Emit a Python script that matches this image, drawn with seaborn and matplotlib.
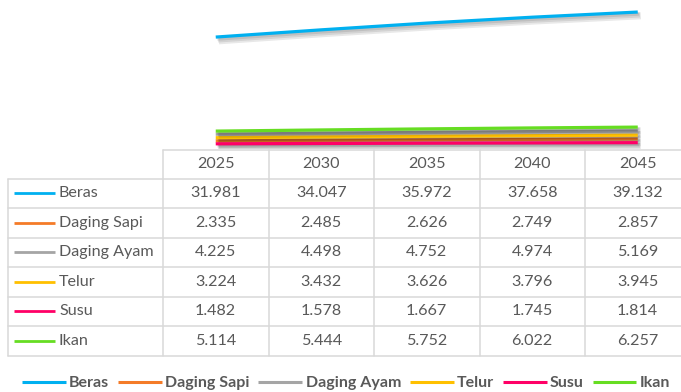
import matplotlib
matplotlib.use("Agg")
import matplotlib.pyplot as plt
import matplotlib.patheffects as pe
from matplotlib.lines import Line2D
import seaborn as sns
import pandas as pd

# Data (projected consumption per commodity)
years = [2025, 2030, 2035, 2040, 2045]
beras = [31.981, 34.047, 35.972, 37.658, 39.132]
daging_sapi = [2.335, 2.485, 2.626, 2.749, 2.857]
daging_ayam = [4.225, 4.498, 4.752, 4.974, 5.169]
telur = [3.224, 3.432, 3.626, 3.796, 3.945]
susu = [1.482, 1.578, 1.667, 1.745, 1.814]
ikan = [5.114, 5.444, 5.752, 6.022, 6.257]

series_names = ["Beras", "Daging Sapi", "Daging Ayam", "Telur", "Susu", "Ikan"]
series_values = [beras, daging_sapi, daging_ayam, telur, susu, ikan]
colors = ["#00B0F0", "#F47B28", "#A5A5A5", "#FFC000", "#FF0066", "#66DD22"]

sns.set_theme(style="white")
plt.rcParams["font.family"] = ["Lato", "DejaVu Sans"]

df = pd.DataFrame(
    [(name, y, v) for name, vals in zip(series_names, series_values) for y, v in zip(years, vals)],
    columns=["Komoditas", "Tahun", "Nilai"],
)

W, H = 681, 392
fig = plt.figure(figsize=(W / 100, H / 100), dpi=100)

# Geometry of the data table (pixels)
col_edges = [8, 163, 268.5, 374, 479.5, 585, 690.5]
row_edges = [150, 178.5, 208, 237.5, 267, 296.5, 326, 355.5]

# Line chart aligned with the table's year columns
plot_bottom_px = 149
ax = fig.add_axes([col_edges[1] / W, 1 - plot_bottom_px / H,
                   (col_edges[-1] - col_edges[1]) / W, plot_bottom_px / H])
sns.lineplot(data=df, x="Tahun", y="Nilai", hue="Komoditas", hue_order=series_names,
             palette=colors, linewidth=2.3, legend=False, ax=ax)
soft_shadow = [pe.SimpleLineShadow(offset=(1.0 + k * 0.6, -1.5 - k * 0.6), shadow_color="black",
                                   alpha=0.09, linewidth=2.3 + k * 1.4) for k in range(3)]
for ln in ax.lines:
    ln.set_solid_capstyle("butt")
    ln.set_path_effects(soft_shadow + [pe.Normal()])
ax.set_xlim(years[0] - 2.5, years[-1] + 2.5)
ax.set_ylim(0, plot_bottom_px / 3.5)
ax.axis("off")

# Data table drawn in pixel coordinates
tax = fig.add_axes([0, 0, 1, 1], zorder=-1)
tax.set_xlim(0, W)
tax.set_ylim(H, 0)
tax.axis("off")
grid_kw = dict(color="#D9D9D9", lw=1.1)
text_color = "#595959"
fs = 11.6

# header row borders
tax.plot([col_edges[1], col_edges[-1]], [row_edges[0], row_edges[0]], **grid_kw)
for x in col_edges[1:]:
    tax.plot([x, x], [row_edges[0], row_edges[-1]], **grid_kw)
tax.plot([col_edges[0], col_edges[0]], [row_edges[1], row_edges[-1]], **grid_kw)
for y in row_edges[1:]:
    tax.plot([col_edges[0], col_edges[-1]], [y, y], **grid_kw)

for j, yr in enumerate(years):
    xc = (col_edges[j + 1] + col_edges[j + 2]) / 2
    tax.text(xc, (row_edges[0] + row_edges[1]) / 2, str(yr), ha="center", va="center",
             fontsize=fs, color=text_color)

for i, (name, vals, c) in enumerate(zip(series_names, series_values, colors)):
    yc = (row_edges[i + 1] + row_edges[i + 2]) / 2
    tax.plot([14, 55], [yc, yc], color=c, lw=2.0, solid_capstyle="butt")
    tax.text(59, yc, name, ha="left", va="center", fontsize=fs, color=text_color)
    for j, v in enumerate(vals):
        xc = (col_edges[j + 1] + col_edges[j + 2]) / 2
        tax.text(xc, yc, f"{v:.3f}", ha="center", va="center", fontsize=fs, color=text_color)

# Legend along the bottom
handles = [Line2D([0], [0], color=c, lw=2.2, solid_capstyle="butt") for c in colors]
leg = fig.legend(handles, series_names, ncol=6, loc="center",
                 bbox_to_anchor=(346 / W, 1 - 383 / H), frameon=False,
                 handlelength=2.75, handletextpad=0.2, columnspacing=0.55,
                 prop=dict(family="Lato", weight="bold", size=11.5))
for t in leg.get_texts():
    t.set_color(text_color)

fig.savefig("out.png", dpi=100)
